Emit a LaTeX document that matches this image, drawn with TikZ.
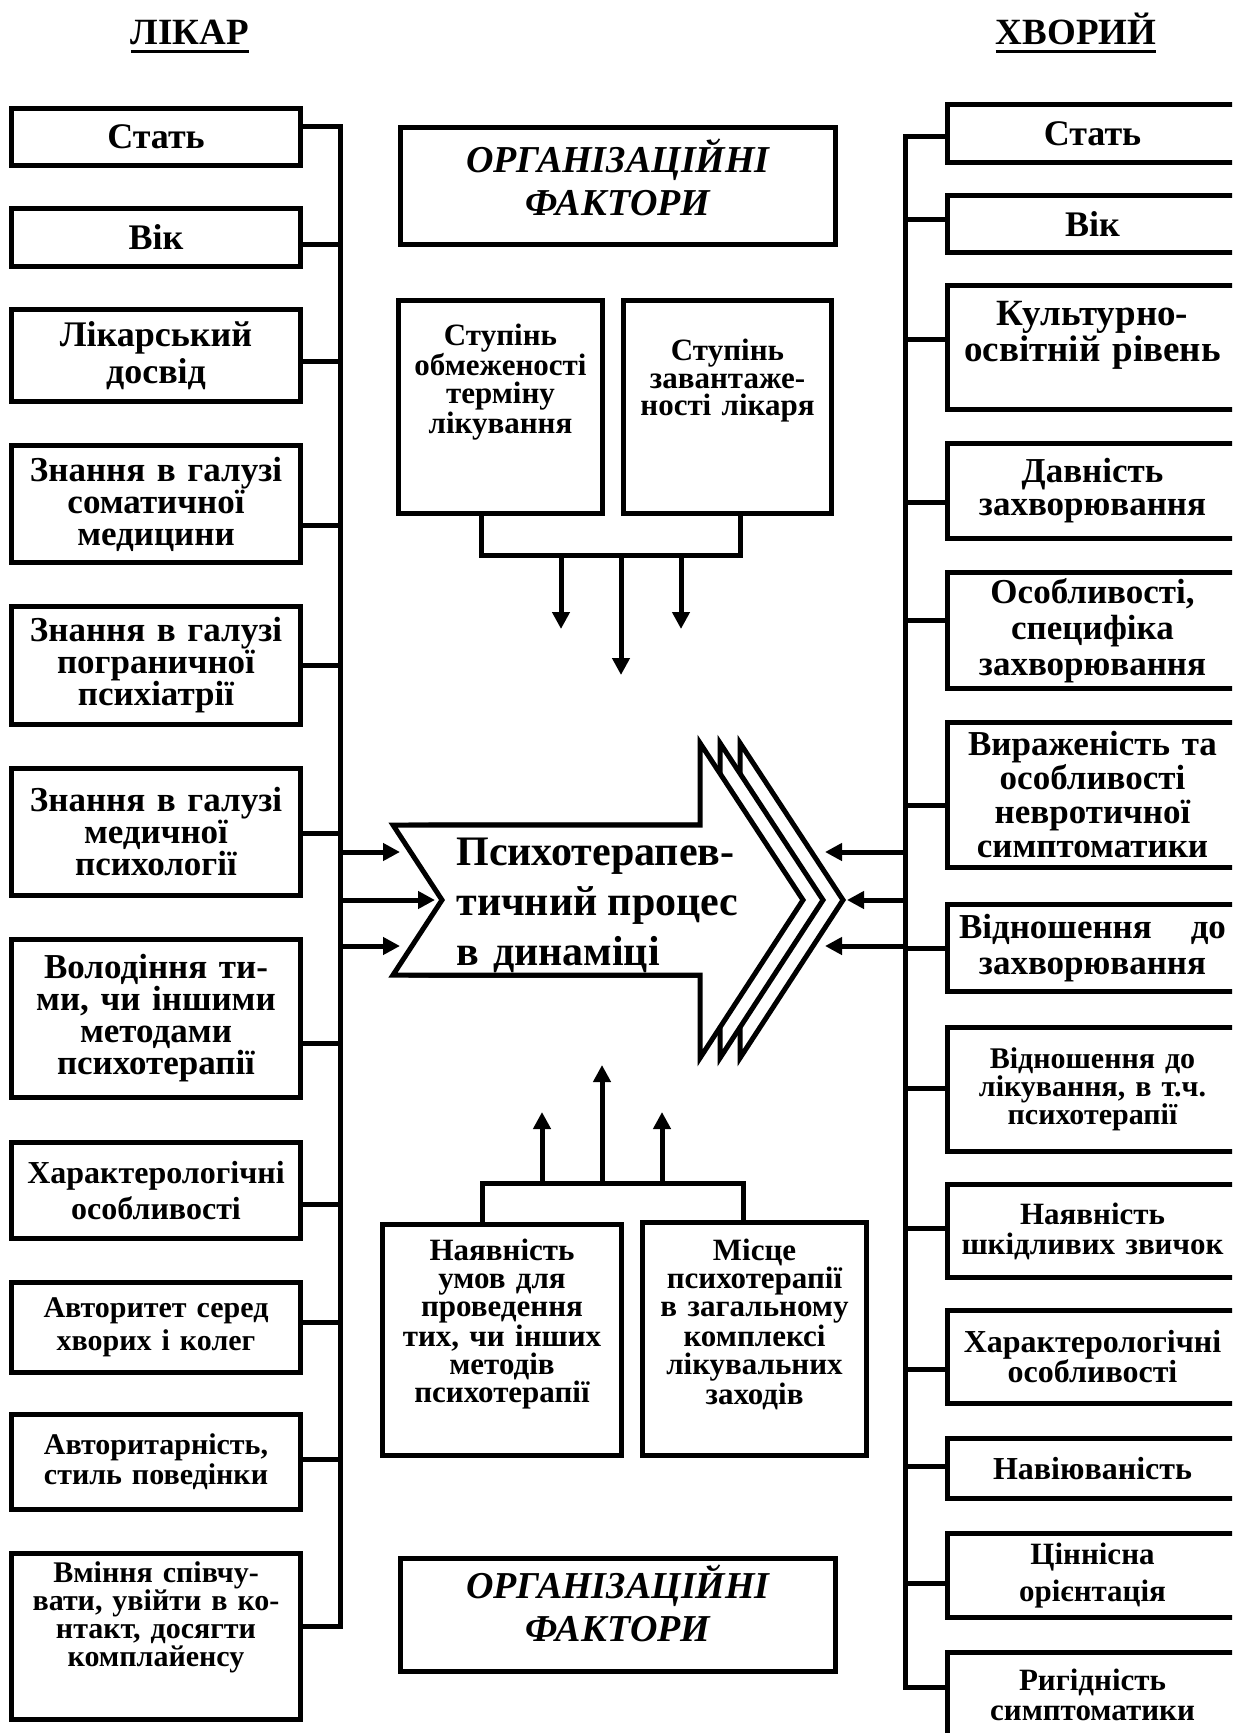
\documentclass[tikz,border=0pt]{standalone}
\usepackage{fontspec}
\setmainfont{Liberation Serif}
\usetikzlibrary{arrows.meta,positioning,calc}
\setlength{\lineskiplimit}{-20pt}
\newcommand{\headul}[1]{\setbox0\hbox{#1}\rlap{\rule[-4pt]{\wd0}{1.5pt}}\box0}

\tikzset{
  box/.style={draw, line width=2.5pt, inner sep=0pt, align=center},
  lbox/.style={box, minimum width=144.5pt, text width=140pt},
  rbox/.style={box, minimum width=145pt, text width=140pt},
  fs/.style 2 args={font=\bfseries\fontsize{#1}{#2}\selectfont},
  orgfont/.style={font=\bfseries\itshape\fontsize{19}{21.5}\selectfont},
  firstbase/.style={text height=0pt, text depth=#1},
  wire/.style={line width=2.5pt},
  arr/.style={line width=2.5pt, -{Triangle[length=8.5pt,width=8.5pt]}},
}

\begin{document}
\begin{tikzpicture}[x=0.5pt, y=-0.5pt]
    \clip (0,0) rectangle (1232,1733);

    % Headings
    \node[fs={18.5}{20}, anchor=base] (doc) at (190,45) {\headul{ЛІКАР}};
    \node[fs={18.5}{20}, anchor=base] (pat) at (1076,45) {\headul{ХВОРИЙ}};

    % Doctor factors
    \node[lbox, fs={18}{16.5}, minimum height=28.5pt] (l1) at (156,137) {Стать};
    \node[lbox, fs={18}{16.5}, minimum height=29pt] (l2) at (156,237.5) {Вік};
    \node[lbox, fs={18}{18.5}, minimum height=46pt] (l3) at (156,355.5) {Лікарський\\досвід};
    \node[lbox, fs={17.5}{16}, minimum height=58.5pt] (l4) at (156,504) {Знання в галузі\\соматичної\\медицини};
    \node[lbox, fs={17.5}{16}, minimum height=59pt] (l5) at (156,665.5) {Знання в галузі\\пограничної\\психіатрії};
    \node[lbox, fs={17.5}{16}, minimum height=63.5pt] (l6) at (156,832) {Знання в галузі\\медичної\\психології};
    \node[lbox, fs={17.5}{16}, minimum height=79pt] (l7) at (156,1018.5) {Володіння ти-\\ми, чи іншими\\методами\\психотерапії};
    \node[lbox, fs={16}{18}, minimum height=48pt] (l8) at (156,1190.5) {Характерологічні\\особливості};
    \node[lbox, fs={15}{16.5}, minimum height=45pt] (l9) at (156,1327.5) {Авторитет серед\\хворих і колег};
    \node[lbox, fs={15}{15}, minimum height=47.5pt] (l10) at (156,1462) {Авторитарність,\\стиль поведінки};
    \node[lbox, fs={15}{14}, minimum height=83pt, firstbase=54.5pt] (l11) at (156,1636.5) {Вміння співчу-\\вати, увійти в ко-\\нтакт, досягти\\комплайенсу};

    % Patient factors
    \node[rbox, fs={18}{16.5}, minimum height=29pt] (r1) at (1092.5,133.5) {Стать};
    \node[rbox, fs={18}{16.5}, minimum height=28.5pt] (r2) at (1092.5,224) {Вік};
    \node[rbox, fs={18.5}{15}, minimum height=62pt, firstbase=21.5pt] (r3) at (1092.5,347.5) {Культурно-\\освітній рівень};
    \node[rbox, fs={17.5}{16.5}, minimum height=47.5pt] (r4) at (1092.5,491) {Давність\\захворювання};
    \node[rbox, fs={17.5}{18}, minimum height=58pt] (r5) at (1092.5,630.5) {Особливості,\\специфіка\\захворювання};
    \node[rbox, fs={17.5}{17}, minimum height=72.5pt] (r6) at (1092.5,795) {Вираженість та\\особливості\\невротичної\\симптоматики};
    \node[rbox, fs={17.5}{18}, minimum height=43.5pt, text width=133.5pt] (r7) at (1092.5,948) {Відношення\hfill до\\захворювання};
    \node[rbox, fs={15}{14}, minimum height=62pt] (r8) at (1092.5,1089.5) {Відношення до\\лікування, в т.ч.\\психотерапії};
    \node[rbox, fs={15.5}{15}, minimum height=46.5pt] (r9) at (1092.5,1231) {Наявність\\шкідливих звичок};
    \node[rbox, fs={16}{15}, minimum height=46.5pt] (r10) at (1092.5,1357) {Характерологічні\\особливості};
    \node[rbox, fs={16}{16}, minimum height=30pt] (r11) at (1092.5,1468.5) {Навіюваність};
    \node[rbox, fs={15.5}{18.5}, minimum height=42pt] (r12) at (1092.5,1575.5) {Ціннісна\\орієнтація};
    \node[rbox, fs={15.5}{15}, minimum height=42.5pt] (r13) at (1092.5,1695) {Ригідність\\симптоматики};

    % Organisational factors
    \node[box, orgfont, minimum width=217.5pt, minimum height=58.5pt, text width=210pt, firstbase=13pt] (org1) at (618,186) {ОРГАНІЗАЦІЙНІ\\ФАКТОРИ};
    \node[box, fs={15.5}{13.8}, minimum width=102pt, minimum height=106.5pt, text width=100pt, firstbase=62pt] (s1) at (500.5,407) {Ступінь\\обмеженості\\терміну\\лікування};
    \node[box, fs={15.5}{14}, minimum width=104pt, minimum height=106.5pt, text width=100pt, firstbase=47pt] (s2) at (727.5,407) {Ступінь\\завантаже-\\ності лікаря};
    \node[box, fs={15.5}{14}, minimum width=119.5pt, minimum height=115.5pt, text width=115pt, firstbase=80pt] (b1) at (502,1340) {Наявність\\умов для\\проведення\\тих, чи інших\\методів\\психотерапії};
    \node[box, fs={15.5}{14}, minimum width=112pt, minimum height=116.5pt, text width=110pt, firstbase=79pt] (b2) at (754.5,1339) {Місце\\психотерапії\\в загальному\\комплексі\\лікувальних\\заходів};
    \node[box, orgfont, minimum width=217.5pt, minimum height=56.5pt, text width=210pt, firstbase=17pt] (org2) at (618,1615) {ОРГАНІЗАЦІЙНІ\\ФАКТОРИ};

    % Process arrow (three stacked heads)
    \foreach \d in {40,20,0}
        \draw[wire, fill=white, xshift=\d*0.5pt] (393,825) -- (700,825) -- (700,743) -- (803,900)
            -- (700,1058) -- (700,975) -- (393,975) -- (442,900) -- cycle;
    \node[fs={21}{25}, anchor=base west, align=left, text width=141pt, inner sep=0pt] (proc) at (456,865)
        {Психотерапев-\\тичний\hfill процес\\в динаміці};

    % Buses
    \coordinate (lbus) at (340,0);
    \coordinate (rbus) at (905,0);
    \draw[wire] (l1.east |- 0,127) -- (lbus |- 0,127) -- (lbus |- 0,1626) -- (l11.east |- 0,1626);
    \foreach \n/\y in {l2/245, l3/362, l4/525, l5/665, l6/833, l7/1043, l8/1204, l9/1322, l10/1459}
        \draw[wire] (\n.east |- 0,\y) -- (lbus |- 0,\y);
    \draw[wire] (r1.west |- 0,137) -- (rbus |- 0,137) -- (rbus |- 0,1687) -- (r13.west |- 0,1687);
    \foreach \n/\y in {r2/220, r3/340, r4/502, r5/620, r6/805, r7/948, r8/1088, r9/1228, r10/1369, r11/1466, r12/1583}
        \draw[wire] (rbus |- 0,\y) -- (\n.west |- 0,\y);

    % Inputs to the process
    \coordinate (li1) at (400,852);
    \coordinate (li2) at (435,900);
    \coordinate (li3) at (400,946);
    \coordinate (ri1) at (825,852);
    \coordinate (ri2) at (847,900);
    \coordinate (ri3) at (825,946);
    \foreach \i in {1,2,3} {
        \draw[arr] (lbus |- li\i) -- (li\i);
        \draw[arr] (rbus |- ri\i) -- (ri\i);
    }

    % Organisational links
    \coordinate (tb) at (0,555);
    \coordinate (bb) at (0,1183);
    \draw[wire] (s1.south -| 481,0) -- (tb -| 481,0) -- (tb -| 740,0) -- (s2.south -| 740,0);
    \draw[wire] (b1.north -| 482,0) -- (bb -| 482,0) -- (bb -| 743,0) -- (b2.north -| 743,0);
    \coordinate (d1) at (561,629);
    \coordinate (d2) at (621,675);
    \coordinate (d3) at (681,629);
    \coordinate (u1) at (542,1112);
    \coordinate (u2) at (602,1065);
    \coordinate (u3) at (662,1112);
    \foreach \i in {1,2,3} {
        \draw[arr] (tb -| d\i) -- (d\i);
        \draw[arr] (bb -| u\i) -- (u\i);
    }
\end{tikzpicture}
\end{document}
